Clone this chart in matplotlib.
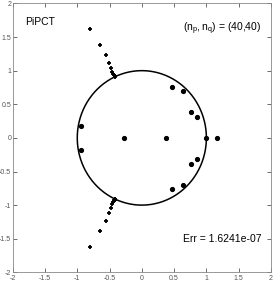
import numpy as np
import matplotlib.pyplot as plt

# eigenvalue-like dots
dot_x = [1.16, 0.99, 0.37, -0.28, -0.94, -0.94, 0.47, 0.64, 0.76, 0.85, 0.47, 0.64, 0.76, 0.85]
dot_y = [0.0, 0.0, 0.0, 0.0, 0.18, -0.18, 0.76, 0.70, 0.39, 0.31, -0.76, -0.70, -0.39, -0.31]

# plus markers (upper branch, mirrored below)
plus_x = [-0.81, -0.65, -0.56, -0.51, -0.48, -0.46, -0.44, -0.43, -0.42, -0.415, -0.41]
plus_y = [1.62, 1.38, 1.23, 1.11, 1.04, 0.98, 0.95, 0.93, 0.925, 0.915, 0.91]

ticks = [-2, -1.5, -1, -0.5, 0, 0.5, 1, 1.5, 2]
tick_labels = ['-2', '-1.5', '-1', '-0.5', '0', '0.5', '1', '1.5', '2']

plt.rcParams['font.family'] = ['Liberation Sans Narrow', 'Liberation Sans', 'DejaVu Sans']

fig = plt.figure(figsize=(2.73, 2.84), dpi=100)
ax = fig.add_axes([0.0465, 0.041, 0.946, 0.947])

t = np.linspace(0, 2 * np.pi, 400)
ax.plot(np.cos(t), np.sin(t), 'k-', lw=1.1)

ax.plot(dot_x, dot_y, 'k.', ms=5.5)
ax.plot(plus_x + plus_x, plus_y + [-v for v in plus_y], 'k+', ms=3, mew=1.3)

ax.text(-1.8, 1.73, 'PiPCT', fontsize=7.5, ha='left', va='center')
ax.text(1.85, 1.62, r'$\mathregular{(n_p,n_q)}$ = (40,40)', fontsize=7.5, ha='right', va='center')
ax.text(1.85, -1.51, 'Err = 1.6241e-07', fontsize=7.5, ha='right', va='center')

ax.set_xlim(-2, 2)
ax.set_ylim(-2, 2)
ax.set_xticks(ticks)
ax.set_xticklabels(tick_labels)
ax.set_yticks(ticks)
ax.set_yticklabels(tick_labels)
ax.tick_params(direction='in', top=True, right=True, length=3, width=0.6,
               labelsize=5, colors='#555555', pad=2)
ax.tick_params(axis='y', pad=1)
for s in ax.spines.values():
    s.set_color('#888888')
    s.set_linewidth(0.6)

fig.savefig('out.png', dpi=100)
